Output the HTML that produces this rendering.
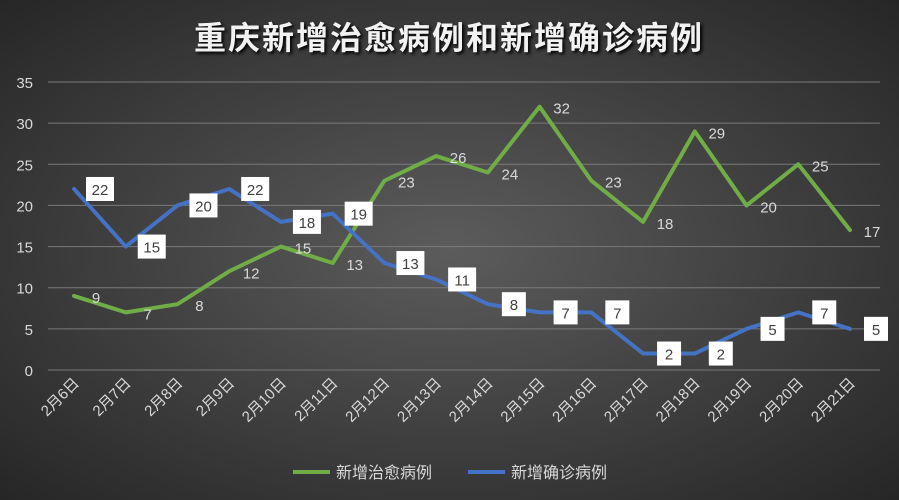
<!DOCTYPE html>
<html><head><meta charset="utf-8">
<style>
html,body{margin:0;padding:0}
body{width:899px;height:500px;overflow:hidden;background:radial-gradient(ellipse at 50% 50%,#5c5c5c 0%,#3e3e3e 55%,#262626 100%);font-family:"Liberation Sans","Noto Sans CJK SC",sans-serif}
</style></head>
<body>
<svg id="chart" width="899" height="500" xmlns="http://www.w3.org/2000/svg" style="position:absolute;left:0;top:0">
<text x="449" y="49" text-anchor="middle" fill="#f2f2f2" font-size="32" font-weight="bold" letter-spacing="2" font-family="Liberation Sans, Noto Sans CJK SC, sans-serif" style="text-shadow:2px 2px 3px #000">重庆新增治愈病例和新增确诊病例</text>
<g id="grid"></g><g id="yt"></g><g id="xt"></g><g id="series"></g><g id="labels"></g>
<g>
<line x1="293" y1="472" x2="330" y2="472" stroke="#70ad47" stroke-width="4"/>
<text x="336" y="478" fill="#d9d9d9" font-size="16">新增治愈病例</text>
<line x1="468" y1="472" x2="505" y2="472" stroke="#4472c4" stroke-width="4"/>
<text x="511" y="478" fill="#d9d9d9" font-size="16">新增确诊病例</text>
</g>
</svg>
<script>
const categories=["2月6日","2月7日","2月8日","2月9日","2月10日","2月11日","2月12日","2月13日","2月14日","2月15日","2月16日","2月17日","2月18日","2月19日","2月20日","2月21日"];
const cured=[9,7,8,12,15,13,23,26,24,32,23,18,29,20,25,17];
const confirmed=[22,15,20,22,18,19,13,11,8,7,7,2,2,5,7,5];
const yTicks=[0,5,10,15,20,25,30,35];
const NS="http://www.w3.org/2000/svg";
const x=i=>74+i*(850-74)/(categories.length-1);
const y=v=>370-v*(370-82)/35;
function mk(t,a,p){const e=document.createElementNS(NS,t);for(const k in a)e.setAttribute(k,a[k]);p.appendChild(e);return e;}
const grid=document.getElementById('grid'),yt=document.getElementById('yt'),xt=document.getElementById('xt');
yTicks.forEach(v=>{
 const l=mk('line',{x1:48,x2:880,y1:y(v),y2:y(v),stroke:'#7a7a7a','stroke-width':1},grid);
 
 
 const t=mk('text',{x:33,y:y(v)+6,'text-anchor':'end',fill:'#d9d9d9','font-size':15},yt);
 t.textContent=v;
 
 
});
categories.forEach((c,i)=>{
 const t=mk('text',{x:x(i)+6,y:384,'text-anchor':'end',fill:'#d9d9d9','font-size':15,transform:`rotate(-45 ${x(i)+6} 384)`},xt);
 t.textContent=c;
 
 
});
const S=document.getElementById('series'),L=document.getElementById('labels');
function line(data,color,name){
 const p=mk('polyline',{points:data.map((v,i)=>x(i)+','+y(v)).join(' '),fill:'none',stroke:color,'stroke-width':4,'stroke-linejoin':'round','stroke-linecap':'round'},S);
 
 
}
line(cured,'#70ad47','series-cured-line');
line(confirmed,'#4472c4','series-confirmed-line');
cured.forEach((v,i)=>{
 const t=mk('text',{x:x(i)+22,y:y(v)+7,'text-anchor':'middle',fill:'#d9d9d9','font-size':15},L);
 t.textContent=v;
 
 
});
confirmed.forEach((v,i)=>{
 const w=String(v).length>1?28:24;
 const r=mk('rect',{x:x(i)+26-w/2,y:y(v)-12,width:w,height:24,fill:'#ffffff'},L);
 
 
 const t=mk('text',{x:x(i)+26,y:y(v)+6,'text-anchor':'middle',fill:'#404040','font-size':15},L);
 t.textContent=v;
 
 
});
</script>
</body></html>
